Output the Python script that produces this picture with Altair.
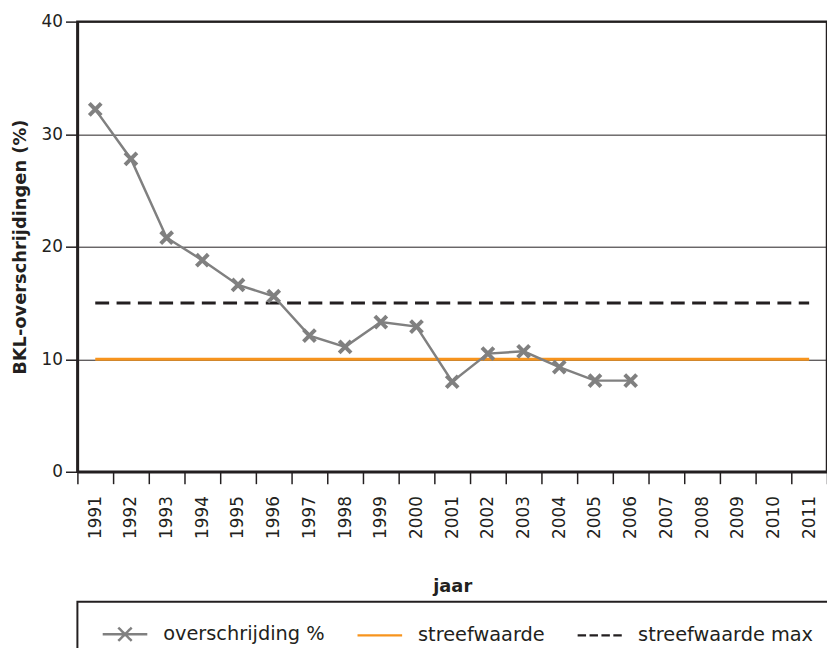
import altair as alt
import pandas as pd

# ---- data ----
years = [str(y) for y in range(1991, 2012)]
series_years = [str(y) for y in range(1991, 2007)]
overschrijding = [32.2, 27.8, 20.8, 18.8, 16.6, 15.6, 12.1, 11.1, 13.3, 12.9,
                  8.0, 10.5, 10.7, 9.3, 8.1, 8.1]
ref_years = ["1991", "2011"]
streefwaarde = [10, 10]
streefwaarde_max = [15, 15]
series_names = ["overschrijding %", "streefwaarde", "streefwaarde max"]
y_ticks = [0, 10, 20, 30, 40]

colors = ["#808080", "#f7941d", "#231f20"]

data_df = pd.DataFrame({"jaar": series_years, "waarde": overschrijding,
                        "serie": series_names[0]})
streef_df = pd.DataFrame({"jaar": ref_years, "waarde": streefwaarde,
                          "serie": series_names[1]})
max_df = pd.DataFrame({"jaar": ref_years, "waarde": streefwaarde_max,
                       "serie": series_names[2]})

FONT = "DejaVu Sans"
TXT = "#231f20"
X_PATH = "M-1,-1L1,1M-1,1L1,-1"
LEG_X = "M-2,0L2,0M-0.6,-0.6L0.6,0.6M-0.6,0.6L0.6,-0.6"
LEG_LINE = "M-2,0L2,0"

x_enc = alt.X("jaar:O", scale=alt.Scale(domain=years, paddingInner=0, paddingOuter=0),
              axis=alt.Axis(title="jaar", labelAngle=270, tickBand="extent",
                            tickSize=12, labelPadding=12, titlePadding=39,
                            grid=False))
y_enc = alt.Y("waarde:Q", scale=alt.Scale(domain=[0, 40], nice=False),
              axis=alt.Axis(title="BKL-overschrijdingen (%)", values=y_ticks,
                            tickSize=12, labelPadding=3, titlePadding=12,
                            grid=True))

legend = alt.Legend(
    title=None, orient="none", legendX=0, legendY=585, direction="horizontal",
    columns=3, symbolSize=506, symbolStrokeWidth=2.5,
    symbolType=alt.ExprRef(f"datum.value === '{series_names[0]}' ? '{LEG_X}' : '{LEG_LINE}'"),
    symbolDash=alt.ExprRef(f"datum.value === '{series_names[2]}' ? [8.5, 3.5] : [1, 0]"),
    symbolFillColor="transparent", symbolOffset=15.5,
    labelFont=FONT, labelFontSize=19.5, labelColor=TXT, labelLimit=400,
    labelOffset=26, columnPadding=27, padding=20, strokeColor=TXT,
)
color_enc = alt.Color("serie:N", scale=alt.Scale(domain=series_names, range=colors),
                      legend=legend)

streef = alt.Chart(streef_df).mark_line(strokeWidth=3).encode(
    x=x_enc, y=y_enc, color=color_enc)
smax = alt.Chart(max_df).mark_line(strokeWidth=3, strokeDash=[14, 7.5]).encode(
    x=x_enc, y=y_enc, color=color_enc)
line = alt.Chart(data_df).mark_line(strokeWidth=2.5).encode(
    x=x_enc, y=y_enc, color=color_enc)
pts = alt.Chart(data_df).mark_point(shape=X_PATH, size=144, filled=False,
                                    strokeWidth=4, opacity=1).encode(
    x=x_enc, y=y_enc, color=color_enc)

chart = alt.layer(streef, smax, line, pts).properties(
    width=756, height=454,
    autosize=alt.AutoSizeParams(type="none"),
    padding={"left": 70, "top": 11, "right": 0, "bottom": 175},
).configure_view(
    stroke=TXT, strokeWidth=2.5
).configure_axis(
    labelFont=FONT, labelFontSize=17, labelColor=TXT,
    titleFont=FONT, titleFontSize=18, titleFontWeight="bold", titleColor=TXT,
    domainColor=TXT, domainWidth=2.5, tickColor=TXT, tickWidth=1.5,
    gridColor=TXT, gridWidth=1, gridOpacity=1,
).configure_legend(strokeWidth=2)

chart.save("out.html", embed_options={"renderer": "svg", "actions": False})
